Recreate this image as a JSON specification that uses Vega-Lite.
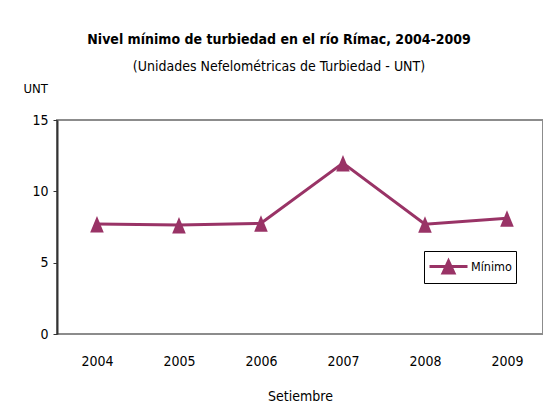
{
  "$schema": "https://vega.github.io/schema/vega-lite/v6.json",
  "autosize": {"type": "none"},
  "width": 486,
  "height": 214,
  "padding": {"left": 57, "top": 120, "right": 0, "bottom": 71},
  "background": "white",
  "title": {
    "text": "Nivel mínimo de turbiedad en el río Rímac, 2004-2009",
    "subtitle": "(Unidades Nefelométricas de Turbiedad - UNT)",
    "font": "DejaVu Sans Condensed",
    "fontSize": 14,
    "fontWeight": "bold",
    "color": "black",
    "subtitleFont": "DejaVu Sans Condensed",
    "subtitleFontSize": 14,
    "subtitleColor": "black",
    "subtitlePadding": 13,
    "anchor": "middle",
    "frame": "group",
    "dx": -21,
    "offset": 8
  },
  "data": {
    "values": [
      {"year": "2004", "serie": "Mínimo", "unt": 7.71},
      {"year": "2005", "serie": "Mínimo", "unt": 7.64},
      {"year": "2006", "serie": "Mínimo", "unt": 7.76},
      {"year": "2007", "serie": "Mínimo", "unt": 11.98},
      {"year": "2008", "serie": "Mínimo", "unt": 7.69},
      {"year": "2009", "serie": "Mínimo", "unt": 8.11}
    ]
  },
  "config": {
    "view": {"stroke": "#8c8c8c", "strokeWidth": 2},
    "font": "DejaVu Sans Condensed"
  },
  "layer": [
    {
      "mark": {"type": "line", "strokeWidth": 3},
      "encoding": {
        "x": {
          "field": "year", "type": "ordinal",
          "scale": {"type": "point", "padding": 0.4634, "align": 0.526},
          "axis": {
            "title": "Setiembre",
            "titleFontSize": 14,
            "titleFontWeight": "normal",
            "titleColor": "black",
            "titlePadding": 21,
            "labelFontSize": 14,
            "labelColor": "black",
            "labelAngle": 0,
            "labelPadding": 20,
            "ticks": false,
            "domain": false,
            "grid": false
          }
        },
        "y": {
          "field": "unt", "type": "quantitative",
          "scale": {"domain": [0, 15], "nice": false},
          "axis": {
            "values": [0, 5, 10, 15],
            "title": "UNT",
            "titleAngle": 0,
            "titleAlign": "left",
            "titleBaseline": "middle",
            "titleX": -34,
            "titleY": -32,
            "titleFontSize": 13,
            "titleFontWeight": "normal",
            "titleColor": "black",
            "labelFontSize": 14,
            "labelColor": "black",
            "labelPadding": 5,
            "tickSize": 4,
            "tickColor": "#333333",
            "domainColor": "#333333",
            "domainWidth": 2,
            "grid": false
          }
        },
        "color": {
          "field": "serie", "type": "nominal",
          "scale": {"range": ["#993366"]},
          "legend": {
            "title": null,
            "orient": "none",
            "legendX": 367,
            "legendY": 131,
            "strokeColor": "black",
            "fillColor": "white",
            "padding": 4,
            "symbolType": "M-1,0L2.8,0M0.35,0.65L0.9,-0.55L1.45,0.65Z",
            "symbolSize": 400,
            "symbolStrokeWidth": 3,
            "symbolFillColor": "#993366",
            "symbolStrokeColor": "#993366",
            "labelFontSize": 12.5,
            "labelColor": "black",
            "labelOffset": 20
          }
        }
      }
    },
    {
      "mark": {"type": "point", "shape": "M0,-0.95L0.8,1L-0.8,1Z", "filled": true, "size": 289, "opacity": 1},
      "encoding": {
        "x": {"field": "year", "type": "ordinal"},
        "y": {"field": "unt", "type": "quantitative"},
        "color": {"field": "serie", "type": "nominal"}
      }
    }
  ]
}
